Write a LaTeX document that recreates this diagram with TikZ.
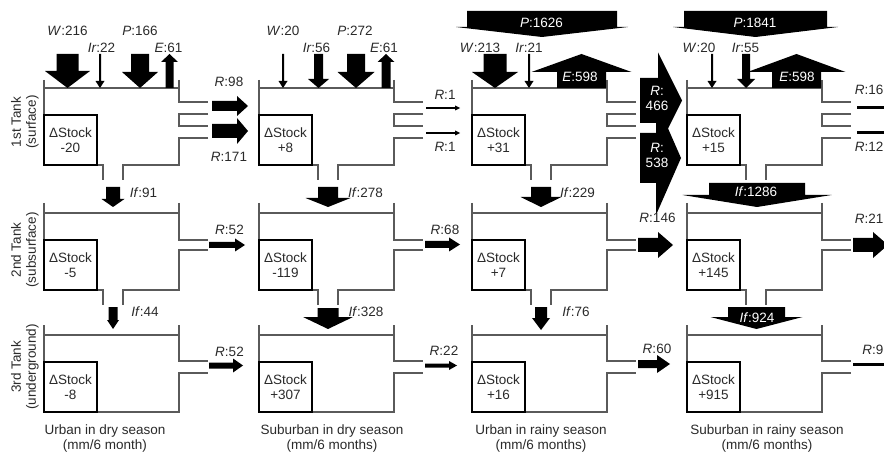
\documentclass[tikz,border=0pt]{standalone}
\usepackage{fontspec}
\setmainfont{Liberation Sans}
\definecolor{txt}{HTML}{2A2A2A}
\definecolor{wall}{HTML}{5A5A5A}
\newcommand{\VArr}[6]{\fill[arr] (#1-#5,#2) -- (#1+#5,#2) -- (#1+#5,#3) -- (#1+#6,#3) -- (#1,#4) -- (#1-#6,#3) -- (#1-#5,#3) -- cycle;}
\newcommand{\HArr}[6]{\fill[arr] (#2,#1-#5) -- (#2,#1+#5) -- (#3,#1+#5) -- (#3,#1+#6) -- (#4,#1) -- (#3,#1-#6) -- (#3,#1-#5) -- cycle;}
\begin{document}
\begin{tikzpicture}[x=1pt,y=-1pt,
  tank/.style={draw=wall,line width=1.1pt},
  arr/.style={fill=black},
  stock/.style={draw=black,line width=1.6pt,minimum width=53pt,minimum height=50pt,inner sep=0pt,align=center,
    font=\fontsize{13.5}{15.5}\selectfont,text=txt},
  lab/.style={font=\fontsize{13.5}{15}\selectfont,text=txt,inner sep=0pt},
  wlab/.style={font=\fontsize{13.5}{15}\selectfont,text=white,inner sep=0pt,align=center},
  side/.style={font=\fontsize{13.5}{15}\selectfont,text=txt,inner sep=0pt,align=center,rotate=90},
  bot/.style={font=\fontsize{13.5}{15}\selectfont,text=txt,inner sep=0pt,align=center}]
\useasboundingbox (0,0) rectangle (884,457);
\fill[white] (0,0) rectangle (884,457);
\clip (0,0) rectangle (884,457);
% tanks
\foreach \dx/\c/\a/\b/\d in {0/1/-20/-5/-8, 215/2/+8/-119/+307, 428/3/+31/+7/+16, 643/4/+15/+145/+915}{
 \begin{scope}[xshift=\dx pt]
  \draw[tank] (44,80) -- (44,165) -- (103,165) -- (103,180);
  \draw[tank] (44,88) -- (179,88);
  \draw[tank] (179,80) -- (179,102) -- (208,102);
  \draw[tank] (208,114) -- (179,114) -- (179,126) -- (208,126);
  \draw[tank] (208,138) -- (179,138) -- (179,165) -- (123,165) -- (123,180);
  \draw[tank] (44,203) -- (44,290) -- (103,290) -- (103,305);
  \draw[tank] (44,213) -- (179,213);
  \draw[tank] (179,203) -- (179,240) -- (208,240);
  \draw[tank] (208,250) -- (179,250) -- (179,290) -- (123,290) -- (123,305);
  \draw[tank] (44,325) -- (44,412) -- (179,412) -- (179,373) -- (208,373);
  \draw[tank] (44,335) -- (179,335);
  \draw[tank] (179,325) -- (179,361) -- (208,361);
  \node[stock] (s\c a) at (70.5,140) {ΔStock\\\a};
  \node[stock] (s\c b) at (70.5,265) {ΔStock\\\b};
  \node[stock] (s\c c) at (70.5,387) {ΔStock\\\d};
 \end{scope}
}
% ---- column 1 inputs
\VArr{67.5}{54}{71}{88}{11}{22.5}
\VArr{100}{54}{81}{88}{1}{4.5}
\VArr{140}{54}{72}{88}{9}{18}
\VArr{169.5}{88}{62}{54}{4}{8.5}
% column 2 inputs
\VArr{283}{54}{81}{88}{1}{4.5}
\VArr{318.5}{54}{79}{88}{4.5}{10.5}
\VArr{356}{54}{72}{88}{9}{18.5}
\VArr{386}{88}{62}{54}{4.5}{8.5}
% column 3 inputs
\VArr{542}{11}{27}{37}{75}{86}
\VArr{495}{54}{72}{88}{11.5}{23}
\VArr{529}{54}{81}{88}{1}{4.5}
\VArr{581.5}{88}{72}{54}{24.5}{50}
% column 4 inputs
\VArr{755.5}{11}{27}{37}{71.5}{82.5}
\VArr{712}{54}{81}{88}{1}{4.5}
\VArr{746}{54}{79}{88}{4}{9}
\VArr{796.5}{88}{72}{54}{24.5}{49}
% ---- lateral outflows
\HArr{106}{212}{237}{248}{5}{10}
\HArr{131}{212}{237}{248}{7}{13}
\HArr{245}{209}{235}{245}{3}{6.5}
\HArr{365.5}{209}{233}{243}{3}{7}
\HArr{108}{426}{455}{460}{0.8}{2.5}
\HArr{133}{426}{455}{460}{0.8}{2.5}
\HArr{244.5}{425}{449}{460}{3.5}{7}
\HArr{365.5}{425}{449}{457}{2}{4.5}
\HArr{100.5}{640}{658}{682}{22.5}{48}
\HArr{158}{640}{656}{681}{25}{57}
\HArr{245}{638}{658}{673}{7}{13}
\HArr{364}{638}{657}{670}{4}{9}
\HArr{245}{853}{873}{888}{7}{13}
\fill[arr] (857,106.5) rectangle (884,109.5);
\fill[arr] (857,131.5) rectangle (884,134.5);
\fill[arr] (853,362.5) rectangle (884,365.5);
% ---- infiltration
\VArr{113}{187}{199}{207}{7}{11.5}
\VArr{113}{307}{320}{329}{4.5}{6}
\VArr{328}{187}{198}{207}{10}{22.5}
\VArr{328}{308}{317}{329}{10.5}{25}
\VArr{541}{187}{197}{207}{10}{20.5}
\VArr{541}{307}{318}{330}{6}{9}
\VArr{757}{183}{195}{207}{48}{74.5}
\VArr{756.5}{307}{317}{329}{28.5}{46}
% ---- labels top
\node[lab] (lW1) at (67.5,31) {\textit{W}:216};
\node[lab] (lI1) at (101.5,48) {\textit{Ir}:22};
\node[lab] (lP1) at (140,31) {\textit{P}:166};
\node[lab] (lE1) at (168.5,48) {\textit{E}:61};
\node[lab] (lW2) at (283,31) {\textit{W}:20};
\node[lab] (lI2) at (316.5,48) {\textit{Ir}:56};
\node[lab] (lP2) at (355,31) {\textit{P}:272};
\node[lab] (lE2) at (384,48) {\textit{E}:61};
\node[wlab] (lP3) at (541.5,22.5) {\textit{P}:1626};
\node[lab] (lW3) at (480,48) {\textit{W}:213};
\node[lab] (lI3) at (529,48) {\textit{Ir}:21};
\node[wlab] (lE3) at (580,77) {\textit{E}:598};
\node[wlab] (lP4) at (755,23) {\textit{P}:1841};
\node[lab] (lW4) at (699,48) {\textit{W}:20};
\node[lab] (lI4) at (745.5,48) {\textit{Ir}:55};
\node[wlab] (lE4) at (797,77) {\textit{E}:598};
% labels R
\node[lab] (r11) at (229,82) {\textit{R}:98};
\node[lab] (r12) at (229,157) {\textit{R}:171};
\node[lab] (r13) at (229.5,230) {\textit{R}:52};
\node[lab] (r14) at (229.5,352) {\textit{R}:52};
\node[lab] (r21) at (445,95) {\textit{R}:1};
\node[lab] (r22) at (445,147) {\textit{R}:1};
\node[lab] (r23) at (445,230) {\textit{R}:68};
\node[lab] (r24) at (444,351) {\textit{R}:22};
\node[wlab] (r31) at (657,98.5) {\textit{R}:\\466};
\node[wlab] (r32) at (657,155) {\textit{R}:\\538};
\node[lab] (r33) at (657.5,218) {\textit{R}:146};
\node[lab] (r34) at (657,349) {\textit{R}:60};
\node[lab,anchor=east] (r41) at (883.5,90) {\textit{R}:16};
\node[lab,anchor=east] (r42) at (883.5,147) {\textit{R}:12};
\node[lab,anchor=east] (r43) at (883.5,219) {\textit{R}:21};
\node[lab,anchor=east] (r44) at (883.5,350) {\textit{R}:9};
% labels If
\node[lab] (f11) at (143.5,193) {\textit{If}:91};
\node[lab] (f12) at (145,312) {\textit{If}:44};
\node[lab] (f21) at (365.5,193) {\textit{If}:278};
\node[lab] (f22) at (366,312) {\textit{If}:328};
\node[lab] (f31) at (577.5,193) {\textit{If}:229};
\node[lab] (f32) at (576,312) {\textit{If}:76};
\node[wlab] (f41) at (756,192) {\textit{If}:1286};
\node[wlab] (f42) at (757,318) {\textit{If}:924};
% side labels
\node[side] (t1) at (25,122) {1st Tank\\(surface)};
\node[side] (t2) at (25,250) {2nd Tank\\(subsurface)};
\node[side] (t3) at (25,367) {3rd Tank\\(underground)};
% bottom labels
\node[bot] (b1) at (105,439) {Urban in dry season\\(mm/6 month)};
\node[bot] (b2) at (332,439) {Suburban in dry season\\(mm/6 months)};
\node[bot] (b3) at (541,439) {Urban in rainy season\\(mm/6 months)};
\node[bot] (b4) at (767,439) {Suburban in rainy season\\(mm/6 months)};
\end{tikzpicture}
\end{document}
